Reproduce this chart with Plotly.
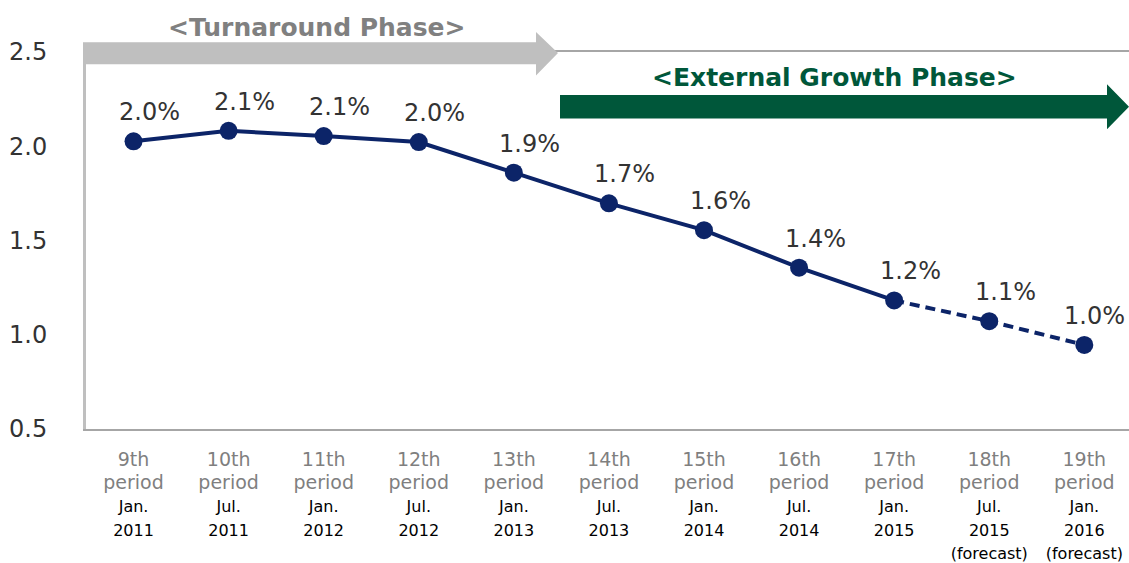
import plotly.graph_objects as go

periods = ["9th", "10th", "11th", "12th", "13th", "14th", "15th", "16th", "17th", "18th", "19th"]
dates = ["Jan.<br>2011", "Jul.<br>2011", "Jan.<br>2012", "Jul.<br>2012", "Jan.<br>2013",
         "Jul.<br>2013", "Jan.<br>2014", "Jul.<br>2014", "Jan.<br>2015",
         "Jul.<br>2015<br>(forecast)", "Jan.<br>2016<br>(forecast)"]
values = [2.026, 2.082, 2.054, 2.022, 1.860, 1.697, 1.555, 1.356, 1.182, 1.072, 0.946]
labels = ["2.0%", "2.1%", "2.1%", "2.0%", "1.9%", "1.7%", "1.6%", "1.4%", "1.2%", "1.1%", "1.0%"]
y_ticks = [0.5, 1.0, 1.5, 2.0, 2.5]
actual_count = 9  # periods 9th..17th are actual, rest forecast

x_idx = list(range(len(periods)))
navy = "#0c2468"
green = "#00573A"
font_family = "DejaVu Sans, Verdana, sans-serif"

# layout geometry (pixels)
W, H = 1129, 563
L, T, B, R = 86, 52, 126, 0
PW, PH = W - L - R, H - T - B


def px(x):
    return (x - L) / PW


def py(y):
    return (H - B - y) / PH


def arrow_path(x0, x1, xh, ytop, ybot, htop, hbot, ytip):
    pts = [(x0, ytop), (x1, ytop), (x1, htop), (xh, ytip), (x1, hbot), (x1, ybot), (x0, ybot)]
    return "M " + " L ".join(f"{px(a):.5f},{py(b):.5f}" for a, b in pts) + " Z"


tick_text = [f"<span style='color:#7f7f7f;font-size:19px'>{p}<br>period</span><br>"
             f"<span style='color:#000000;font-size:16px'>{d}</span>"
             for p, d in zip(periods, dates)]

fig = go.Figure()
fig.add_trace(go.Scatter(x=x_idx[:actual_count], y=values[:actual_count], mode="lines",
                         line=dict(color=navy, width=4), hoverinfo="skip", showlegend=False))
fig.add_trace(go.Scatter(x=x_idx[actual_count - 1:], y=values[actual_count - 1:], mode="lines",
                         line=dict(color=navy, width=4, dash="10px,6px"), hoverinfo="skip", showlegend=False))
fig.add_trace(go.Scatter(x=x_idx, y=values, mode="markers",
                         marker=dict(color=navy, size=18), showlegend=False))

last = len(x_idx) - 1
for xi, v, lab in zip(x_idx, values, labels):
    fig.add_annotation(x=xi, y=v, text=lab, showarrow=False,
                       xshift=10 if xi == last else 16, yshift=29,
                       font=dict(family=font_family, size=24, color="#333333"))

fig.add_shape(type="path", xref="paper", yref="paper", layer="above",
              path=arrow_path(83, 536, 558, 42, 64.5, 31.5, 76, 53),
              fillcolor="#bfbfbf", line=dict(width=0))
fig.add_shape(type="path", xref="paper", yref="paper", layer="above",
              path=arrow_path(560, 1107, 1129, 96, 120, 85, 131, 108),
              fillcolor=green, line=dict(width=0))

fig.add_annotation(xref="paper", yref="paper", x=px(317), y=py(27), xanchor="center", yanchor="middle",
                   text="<b>&lt;Turnaround Phase&gt;</b>",
                   showarrow=False, font=dict(family=font_family, size=25, color="#808080"))
fig.add_annotation(xref="paper", yref="paper", x=px(834), y=py(78), xanchor="center", yanchor="middle",
                   text="<b>&lt;External Growth Phase&gt;</b>",
                   showarrow=False, font=dict(family=font_family, size=25, color=green))

fig.update_layout(
    width=W, height=H,
    margin=dict(l=L, r=R, t=T, b=B),
    paper_bgcolor="white", plot_bgcolor="white",
    xaxis=dict(range=[-0.5, 10.47], tickmode="array", tickvals=x_idx, ticktext=tick_text,
               showgrid=False, zeroline=False, showline=True, mirror=True,
               linecolor="#a6a6a6", linewidth=2, ticks="", ticklabelstandoff=13,
               tickfont=dict(family=font_family, size=18, color="#7f7f7f")),
    yaxis=dict(range=[0.5, 2.5], tickmode="array", tickvals=y_ticks,
               ticktext=[f"{t:.1f}" for t in y_ticks],
               showgrid=False, zeroline=False, showline=True, linecolor="#bfbfbf", linewidth=3,
               ticks="", ticklabelstandoff=31,
               tickfont=dict(family=font_family, size=24, color="#333333")),
)

fig.write_html("out.html", config={"displayModeBar": False},
               post_script="document.body.style.margin='0px';")
